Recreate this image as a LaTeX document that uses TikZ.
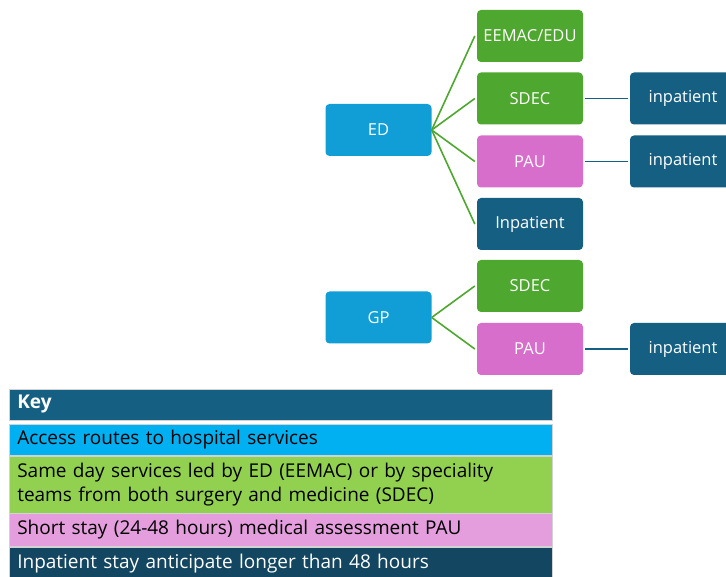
\documentclass[tikz,border=0pt]{standalone}
\usepackage{fontspec}
\setmainfont{Open Sans}
\usetikzlibrary{positioning}

\definecolor{accessblue}{HTML}{119ED6}
\definecolor{samedaygreen}{HTML}{4EA72E}
\definecolor{shortpink}{HTML}{D86ECC}
\definecolor{inpatblue}{HTML}{156082}
\definecolor{keycyan}{HTML}{00B0F0}
\definecolor{keygreen}{HTML}{92D050}
\definecolor{keypink}{HTML}{E49EDD}
\definecolor{keynavy}{HTML}{134661}

\begin{document}
\begin{tikzpicture}[x=1pt, y=-1pt]
            \tikzstyle{unit} = [rectangle, rounded corners=4pt, minimum width=106pt,
                                minimum height=52pt, text=white, font=\fontsize{16.5}{20}\selectfont]
            \tikzstyle{route} = [samedaygreen, line width=1.6pt]
            \tikzstyle{onward} = [inpatblue, line width=1.6pt]
            \tikzstyle{keyrow} = [rectangle, draw=gray!35, line width=0.6pt, anchor=west,
                                  minimum width=543pt, text width=527pt, inner xsep=8pt,
                                  align=left, font=\fontsize{19}{24}\selectfont]
            \useasboundingbox (0, 0) rectangle (726, 577);
            % access routes
            \node[unit, fill=accessblue] (ed) at (378.5, 130) {ED};
            \node[unit, fill=accessblue] (gp) at (378.5, 317.5) {GP};
            % services reached from ED
            \node[unit, fill=samedaygreen] (eemac) at (530, 36) {EEMAC/EDU};
            \node[unit, fill=samedaygreen] (sdec) at (530, 98.5) {SDEC};
            \node[unit, fill=shortpink] (pau) at (530, 161.5) {PAU};
            \node[unit, fill=inpatblue] (inpat) at (530, 224) {Inpatient};
            % services reached from GP
            \node[unit, fill=samedaygreen] (gpsdec) at (530, 286) {SDEC};
            \node[unit, fill=shortpink] (gppau) at (530, 349) {PAU};
            % onward admissions
            \node[unit, fill=inpatblue] (sdecin) at (683, 98.5) {inpatient};
            \node[unit, fill=inpatblue] (pauin) at (683, 161.5) {inpatient};
            \node[unit, fill=inpatblue] (gppauin) at (683, 349) {inpatient};
            \foreach \s in {eemac, sdec, pau, inpat}
                \draw[route] (ed.east) -- ([xshift=-2pt]\s.west);
            \foreach \s in {gpsdec, gppau}
                \draw[route] (gp.east) -- ([xshift=-2pt]\s.west);
            \draw[onward] ([xshift=2pt]sdec.east) -- ([xshift=-2pt]sdecin.west);
            \draw[onward] ([xshift=2pt]pau.east) -- ([xshift=-2pt]pauin.west);
            \draw[onward] ([xshift=2pt]gppau.east) -- ([xshift=-2pt]gppauin.west);
            % key
            \node[keyrow, fill=inpatblue, text=white, minimum height=31pt,
                  font=\fontsize{19}{24}\selectfont\bfseries] (key) at (9, 404.5) {Key};
            \node[keyrow, fill=keycyan, minimum height=31pt] (keyaccess) at (9, 439.5)
                {Access routes to hospital services};
            \node[keyrow, fill=keygreen, minimum height=57pt] (keysame) at (9, 484.5)
                {Same day services led by ED (EEMAC) or by speciality\\teams from both surgery and medicine (SDEC)};
            \node[keyrow, fill=keypink, minimum height=32.5pt] (keyshort) at (9, 529.8)
                {Short stay (24-48 hours) medical assessment PAU};
            \node[keyrow, fill=keynavy, text=white, minimum height=33pt] (keyinpat) at (9, 563.5)
                {Inpatient stay anticipate longer than 48 hours};
        \end{tikzpicture}
\end{document}
